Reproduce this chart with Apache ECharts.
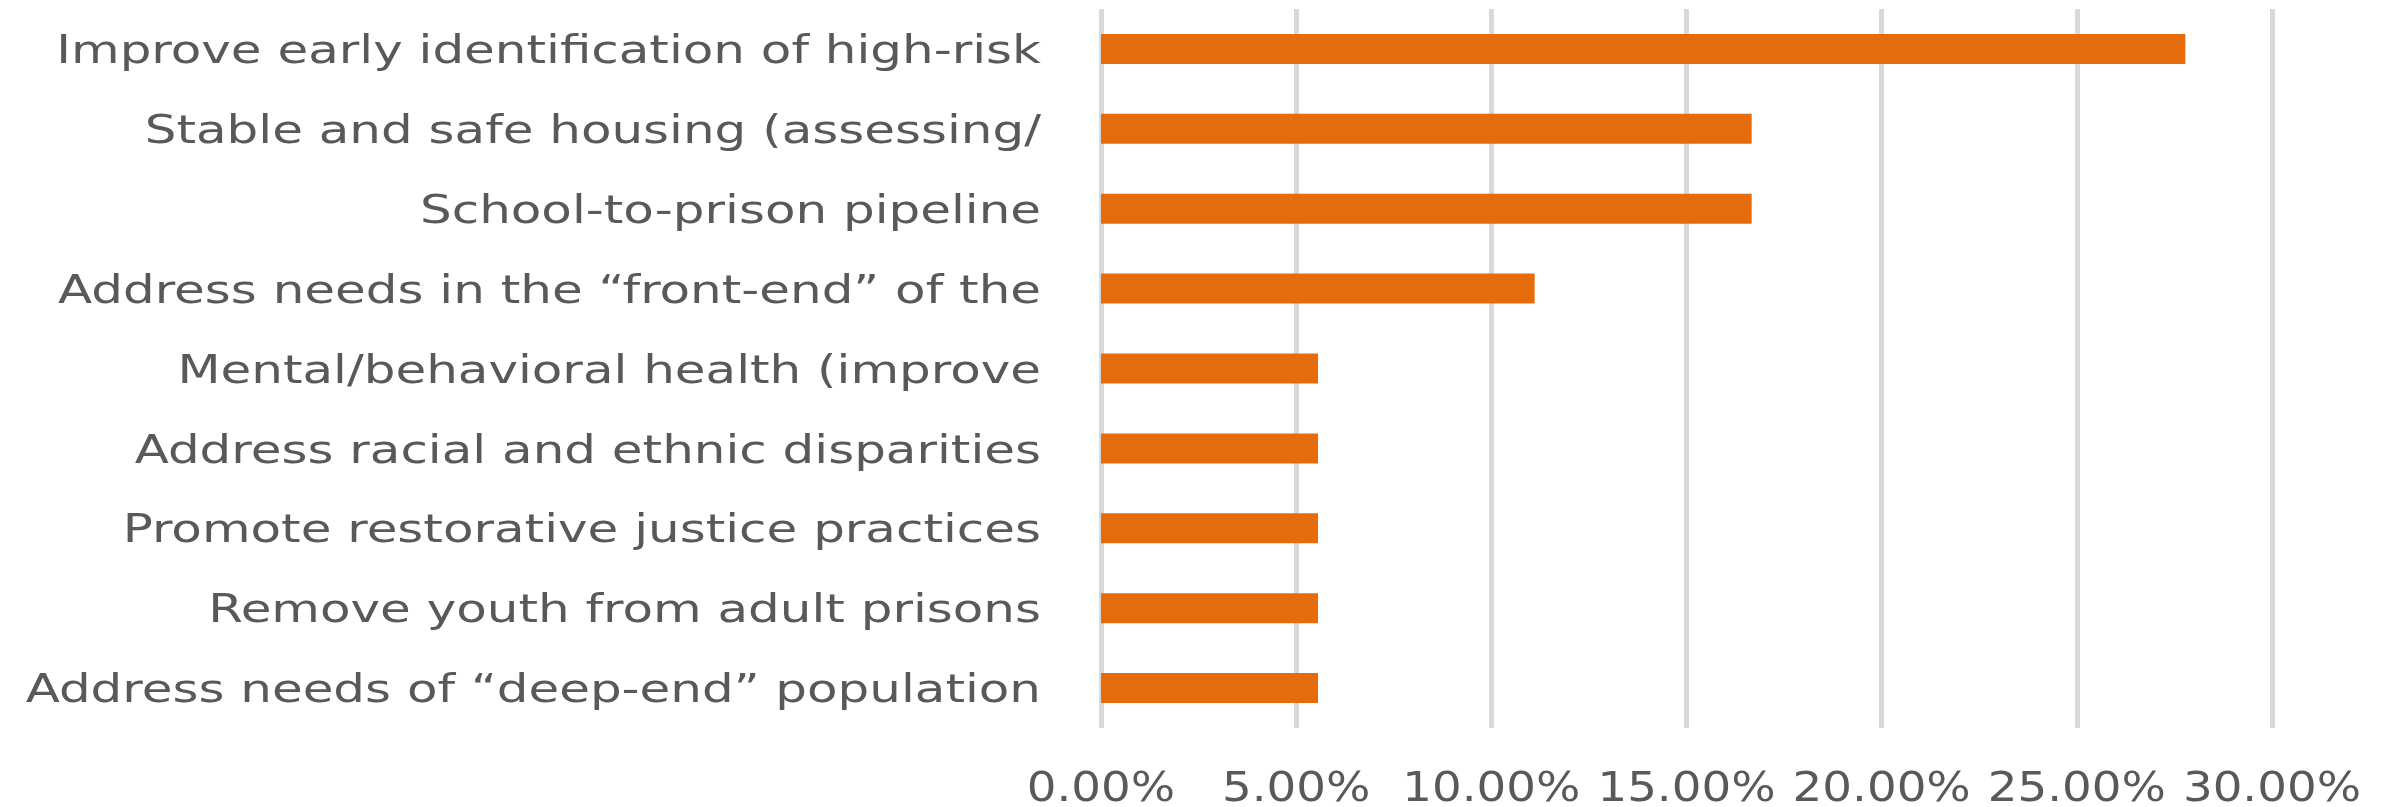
<!DOCTYPE html>
<html>
<head>
<meta charset="utf-8">
<script src="https://cdn.jsdelivr.net/npm/echarts@6/dist/echarts.min.js"></script>
<style>
html,body{margin:0;padding:0;background:#fff;}
#chart{width:2384px;height:807px;}
</style>
</head>
<body>
<div id="chart"></div>
<script>
const categories = [
  "Improve early identification of high-risk",
  "Stable and safe housing (assessing/",
  "School-to-prison pipeline",
  "Address needs in the \u201cfront-end\u201d of the",
  "Mental/behavioral health (improve",
  "Address racial and ethnic disparities",
  "Promote restorative justice practices",
  "Remove youth from adult prisons",
  "Address needs of \u201cdeep-end\u201d population"
];
const values = [27.78, 16.67, 16.67, 11.11, 5.56, 5.56, 5.56, 5.56, 5.56];
const tickValues = [0, 5, 10, 15, 20, 25, 30];
const axisMin = 0;
const axisMax = 30;
const axisStep = 5;

const chart = echarts.init(document.getElementById('chart'));
chart.setOption({
  animation: false,
  backgroundColor: '#ffffff',
  grid: { left: 1101, right: 112, top: 9, bottom: 79, containLabel: false },
  xAxis: {
    type: 'value', min: axisMin, max: axisMax, interval: axisStep,
    axisLine: { show: false }, axisTick: { show: false },
    splitLine: { show: true, lineStyle: { color: '#d9d9d9', width: 5 } },
    axisLabel: { show: false }
  },
  yAxis: {
    type: 'category', data: categories, inverse: true,
    axisLine: { show: false }, axisTick: { show: false },
    splitLine: { show: false },
    axisLabel: { show: false }
  },
  series: [{
    type: 'bar', data: values, barWidth: 30,
    itemStyle: { color: '#E46C0C' }
  }]
});

// Text labels placed from the library's own axis scales (horizontally widened like the reference)
const graphics = [];
const labelRight = chart.convertToPixel({ xAxisIndex: 0 }, axisMin) - 60;
categories.forEach(function (c, i) {
  const cy = chart.convertToPixel({ yAxisIndex: 0 }, i) + 4;
  graphics.push({
    type: 'text', x: labelRight, y: cy, scaleX: 1.28, silent: true,
    style: { text: c, fill: '#595959', font: '39px "DejaVu Sans"', align: 'right', verticalAlign: 'middle' }
  });
});
tickValues.forEach(function (v) {
  const px = chart.convertToPixel({ xAxisIndex: 0 }, v);
  const py = chart.convertToPixel({ yAxisIndex: 0 }, categories.length - 1) + 102;
  graphics.push({
    type: 'text', x: px, y: py, scaleX: 1.14, silent: true,
    style: { text: v.toFixed(2) + '%', fill: '#595959', font: '41px "DejaVu Sans"', align: 'center', verticalAlign: 'middle' }
  });
});
chart.setOption({ graphic: graphics });
</script>
</body>
</html>
